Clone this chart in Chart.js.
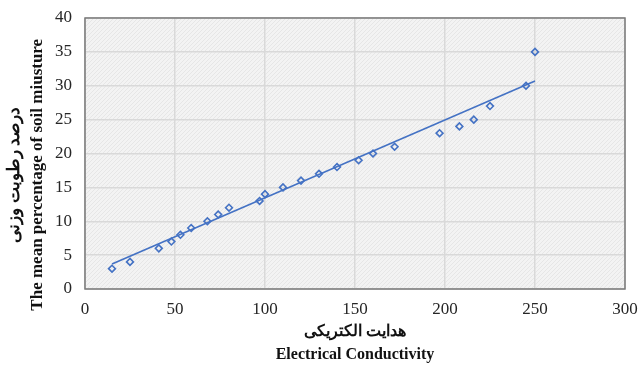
<!DOCTYPE html>
<html>
<head>
<meta charset="utf-8">
<script src="https://cdn.jsdelivr.net/npm/chart.js@4.4.0/dist/chart.umd.min.js"></script>
<style>
  html, body { margin: 0; padding: 0; background: #fff; }
  #wrap { width: 641px; height: 366px; }
</style>
</head>
<body>
<div id="wrap"><canvas id="chart" width="641" height="366"></canvas></div>
<script>
// values
const conductivity = [15, 25, 41, 48, 53, 59, 68, 74, 80, 97, 100, 110, 120, 130, 140, 152, 160, 172, 197, 208, 216, 225, 245, 250]
const moisture     = [3, 4, 6, 7, 8, 9, 10, 11, 12, 13, 14, 15, 16, 17, 18, 19, 20, 21, 23, 24, 25, 27, 30, 35]

// linear trendline ends as drawn
const trendX = [15, 250]
const trendY = [3.7, 30.7]

// trailing nbsp pushes the rotated y title down a bit, as in the original
const pad = '\u00A0'.repeat(10)
const xTitle = ['هدایت الکتریکی', 'Electrical Conductivity']
const yTitle = ['درصد رطوبت وزنی' + pad, 'The mean percentage of soil miusture' + pad]

const blue = '#4472C4'
const serif = "'Liberation Serif', 'DejaVu Serif', serif"

let zip = (a, b) => a.map((x, i) => ({ x: x, y: b[i] }))

// faint hatch for the plot area, like the original
function hatch() {
    const c = document.createElement('canvas')
    c.width = 4; c.height = 4
    const g = c.getContext('2d')
    g.fillStyle = '#f3f3f3'
    g.fillRect(0, 0, 4, 4)
    g.strokeStyle = '#e6e6e6'
    g.lineWidth = 1
    g.beginPath()
    g.moveTo(0, 4); g.lineTo(4, 0)
    g.stroke()
    return g.createPattern(c, 'repeat')
}

const plotFrame = {
    id: 'plotFrame',
    beforeDraw(chart) {
        const { ctx, chartArea: a } = chart
        ctx.save()
        ctx.fillStyle = hatch()
        ctx.fillRect(a.left, a.top, a.right - a.left, a.bottom - a.top)
        ctx.restore()
    },
    afterDatasetsDraw(chart) {
        const { ctx, chartArea: a } = chart
        ctx.save()
        ctx.strokeStyle = '#7a7a7a'
        ctx.lineWidth = 1.5
        ctx.strokeRect(a.left, a.top, a.right - a.left, a.bottom - a.top)
        ctx.restore()
    }
}

new Chart(document.getElementById('chart'), {
    type: 'scatter',
    data: {
        datasets: [
            {
                label: 'trend',
                type: 'line',
                data: zip(trendX, trendY),
                borderColor: blue,
                borderWidth: 1.6,
                pointRadius: 0,
                fill: false
            }, {
                label: 'moisture',
                data: zip(conductivity, moisture),
                pointStyle: 'rectRot',
                pointRadius: 3.4,
                pointBorderWidth: 1.6,
                borderColor: blue,
                backgroundColor: 'rgba(255,255,255,0)'
            }
        ]
    },
    options: {
        responsive: false,
        animation: false,
        layout: { padding: { left: 3, right: 16, top: 18, bottom: 0 } },
        plugins: { legend: { display: false }, tooltip: { enabled: false } },
        scales: {
            x: {
                type: 'linear',
                min: 0, max: 300,
                ticks: { stepSize: 50, color: '#262626', padding: 10, font: { family: serif, size: 17 } },
                grid: { color: '#d9d9d9', lineWidth: 1.5, drawTicks: false },
                border: { display: false },
                title: {
                    display: true, text: xTitle, color: '#111',
                    font: { family: serif, size: 16, weight: 'bold', lineHeight: '23px' },
                    padding: { top: 0, bottom: 0 }
                },
                afterFit: s => { s.height = 77; s.paddingLeft = 0; s.paddingRight = 0 }
            },
            y: {
                min: 0, max: 40,
                ticks: { stepSize: 5, color: '#262626', padding: 13, font: { family: serif, size: 17 } },
                grid: { color: '#d9d9d9', lineWidth: 1.5, drawTicks: false },
                border: { display: false },
                title: {
                    display: true, text: yTitle, color: '#111',
                    font: { family: serif, size: 17, weight: 'bold', lineHeight: '23px' },
                    padding: { top: 0, bottom: 0 }
                },
                afterFit: s => { s.width = 82; s.paddingTop = 0; s.paddingBottom = 0 }
            }
        }
    },
    plugins: [plotFrame]
})
</script>
</body>
</html>
